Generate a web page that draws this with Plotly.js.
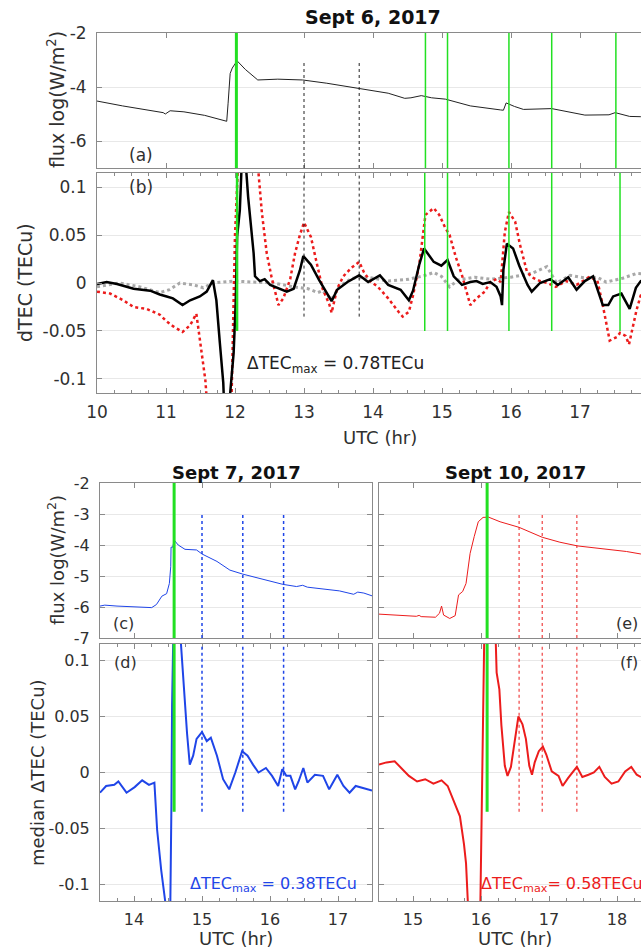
<!DOCTYPE html>
<html>
<head>
<meta charset="utf-8">
<script src="https://cdn.plot.ly/plotly-3.0.1.min.js"></script>
<style>
html,body{margin:0;padding:0;background:#fff;overflow:hidden;width:641px;height:948px;}
#plot{width:700px;height:948px;}
</style>
</head>
<body>
<div id="plot"></div>
<script>
// ---------- DATA ----------
// Panel (a): Sept 6 X-ray flux, log10(W/m^2)
const fluxSep6T = [10.0,10.37,10.96,10.99,11.06,11.26,11.56,11.85,11.88,11.90,11.93,11.96,12.03,12.15,12.33,12.62,12.98,13.33,13.81,14.22,14.46,14.55,14.70,14.85,15.05,15.41,15.85,15.89,15.93,16.05,16.18,16.59,17.07,17.42,17.51,17.72,17.88,18.0];
const fluxSep6V = [-4.52,-4.70,-4.95,-5.00,-4.88,-4.92,-5.05,-5.24,-5.27,-4.60,-3.50,-3.30,-3.03,-3.35,-3.74,-3.71,-3.74,-3.86,-4.05,-4.23,-4.42,-4.40,-4.32,-4.40,-4.45,-4.70,-4.85,-4.86,-4.59,-4.72,-4.83,-4.80,-5.04,-5.03,-4.95,-5.09,-5.10,-5.11];

// Panel (b): Sept 6 dTEC (TECu)
const dtecBlackT = [10.0,10.14,10.29,10.53,10.77,10.91,11.01,11.10,11.24,11.35,11.49,11.59,11.68,11.73,11.78,11.83,11.86,11.90,11.93,11.98,12.01,12.03,12.07,12.11,12.14,12.16,12.19,12.27,12.29,12.36,12.43,12.51,12.65,12.75,12.85,12.94,12.99,13.10,13.22,13.33,13.40,13.48,13.63,13.80,13.93,14.10,14.22,14.40,14.52,14.58,14.67,14.74,14.88,14.99,15.08,15.17,15.29,15.41,15.50,15.59,15.70,15.79,15.85,15.87,15.89,15.94,16.03,16.12,16.24,16.30,16.37,16.42,16.57,16.68,16.83,16.95,17.07,17.19,17.33,17.41,17.48,17.60,17.72,17.81,17.88,18.0];
const dtecBlackV = [-0.001,0.001,-0.001,-0.006,-0.008,-0.012,-0.014,-0.016,-0.023,-0.018,-0.014,-0.009,0.003,-0.018,-0.062,-0.104,-0.16,-0.16,-0.115,-0.073,-0.021,0.048,0.076,0.14,0.20,0.12,0.090,0.031,0.007,0.002,0.004,-0.002,-0.006,-0.009,-0.006,0.013,0.028,0.019,0.003,-0.011,-0.019,-0.007,0.001,0.008,0.001,0.008,-0.002,-0.007,-0.018,-0.008,0.019,0.036,0.022,0.018,0.024,0.007,-0.002,0.001,0.002,-0.001,0.001,-0.004,-0.014,-0.023,0.014,0.041,0.036,0.018,-0.002,-0.009,-0.004,0.000,0.004,-0.002,0.006,-0.007,0.002,0.007,-0.023,-0.023,-0.014,-0.011,-0.027,-0.005,0.002,0.003];
const dtecRedT = [10.0,10.19,10.38,10.53,10.72,10.82,10.91,11.01,11.10,11.24,11.35,11.44,11.52,11.57,11.60,11.70,11.90,11.95,12.00,12.04,12.15,12.30,12.34,12.39,12.46,12.53,12.63,12.70,12.80,12.87,12.94,13.00,13.10,13.19,13.27,13.37,13.40,13.48,13.57,13.69,13.80,13.87,13.96,14.07,14.22,14.37,14.43,14.52,14.58,14.67,14.76,14.88,14.96,15.05,15.11,15.20,15.29,15.41,15.50,15.62,15.70,15.79,15.85,15.91,15.97,16.06,16.13,16.23,16.30,16.42,16.53,16.65,16.80,16.95,17.13,17.25,17.33,17.43,17.54,17.58,17.66,17.71,17.82,17.88,18.0];
const dtecRedV = [-0.009,-0.011,-0.018,-0.025,-0.027,-0.030,-0.033,-0.040,-0.045,-0.051,-0.044,-0.032,-0.077,-0.101,-0.13,-0.30,-0.20,-0.12,0.05,0.13,0.30,0.14,0.115,0.073,0.031,0.006,-0.023,-0.016,0.004,0.031,0.050,0.063,0.048,0.019,-0.006,-0.023,-0.031,-0.006,0.007,0.016,0.022,0.011,0.002,-0.004,-0.016,-0.030,-0.035,-0.030,-0.013,0.019,0.071,0.078,0.071,0.057,0.050,0.027,0.008,-0.023,-0.016,-0.009,0.001,0.004,0.001,0.053,0.074,0.064,0.040,0.012,0.006,0.002,0.000,-0.004,0.002,-0.002,0.006,0.003,-0.023,-0.060,-0.056,-0.052,-0.055,-0.064,-0.028,-0.013,-0.005];
const dtecGrayT = [10.0,10.33,10.62,10.91,11.05,11.20,11.40,11.54,11.68,11.97,12.27,12.56,12.85,13.06,13.20,13.27,13.40,13.51,13.69,13.93,14.22,14.52,14.76,14.88,14.99,15.11,15.23,15.47,15.70,16.00,16.30,16.52,16.66,16.77,16.86,17.01,17.10,17.25,17.38,17.62,17.82,18.0];
const dtecGrayV = [-0.004,0.000,-0.004,-0.010,-0.007,0.000,-0.002,-0.005,0.000,0.002,0.001,0.000,-0.004,-0.006,-0.010,-0.008,-0.017,-0.004,0.005,0.006,0.002,0.004,0.008,0.011,0.007,-0.004,0.003,0.006,0.004,0.006,0.010,0.017,0.000,0.004,0.008,0.006,0.005,0.006,0.001,0.005,0.010,0.009];

// Panel (c): Sept 7 flux
const fluxSep7T = [13.5,13.57,13.75,14.04,14.26,14.33,14.41,14.48,14.52,14.54,14.545,14.57,14.59,14.65,14.75,14.92,15.0,15.22,15.41,15.60,15.85,16.19,16.39,16.48,16.55,16.72,17.02,17.23,17.29,17.38,17.5];
const fluxSep7V = [-5.97,-5.94,-5.97,-6.00,-6.02,-5.92,-5.65,-5.57,-5.24,-4.70,-4.07,-4.07,-3.84,-4.00,-4.14,-4.16,-4.29,-4.53,-4.81,-4.94,-5.07,-5.27,-5.34,-5.30,-5.36,-5.40,-5.48,-5.59,-5.52,-5.55,-5.64];

// Panel (d): Sept 7 median dTEC
const medSep7T = [13.5,13.59,13.71,13.77,13.89,14.01,14.12,14.22,14.30,14.34,14.40,14.47,14.50,14.53,14.55,14.56,14.58,14.65,14.69,14.74,14.78,14.82,14.87,14.92,15.0,15.07,15.13,15.22,15.31,15.40,15.49,15.59,15.67,15.75,15.83,15.94,16.03,16.12,16.18,16.24,16.30,16.37,16.42,16.49,16.55,16.66,16.78,16.87,16.99,17.08,17.17,17.26,17.38,17.5];
const medSep7V = [-0.018,-0.012,-0.011,-0.008,-0.018,-0.013,-0.007,-0.011,-0.009,-0.051,-0.087,-0.12,-0.20,-0.14,-0.030,0.060,0.13,0.30,0.115,0.068,0.035,0.007,0.015,0.030,0.036,0.028,0.031,0.015,-0.006,-0.015,0.000,0.019,0.015,0.007,0.000,0.004,-0.003,-0.012,0.003,-0.003,-0.003,-0.015,-0.008,0.004,-0.009,-0.002,-0.003,-0.015,-0.002,-0.012,-0.018,-0.012,-0.014,-0.016];

// Panel (e): Sept 10 flux
const fluxSep10T = [14.5,14.82,15.05,15.09,15.12,15.33,15.39,15.42,15.45,15.54,15.62,15.67,15.73,15.78,15.84,15.90,15.96,16.03,16.11,16.28,16.56,16.90,17.16,17.42,17.85,18.14,18.35,18.5];
const fluxSep10V = [-6.23,-6.26,-6.30,-6.27,-6.31,-6.33,-6.20,-5.97,-6.26,-6.37,-6.28,-5.61,-5.50,-5.24,-4.27,-3.73,-3.25,-3.11,-3.10,-3.25,-3.43,-3.75,-3.91,-4.03,-4.14,-4.21,-4.29,-4.33];

// Panel (f): Sept 10 median dTEC
const medSep10T = [14.5,14.61,14.73,14.85,14.94,15.06,15.18,15.30,15.42,15.51,15.60,15.69,15.75,15.78,15.81,15.90,15.99,16.01,16.03,16.05,16.13,16.21,16.23,16.27,16.30,16.35,16.39,16.44,16.50,16.55,16.61,16.66,16.71,16.75,16.79,16.85,16.91,16.96,17.04,17.14,17.20,17.28,17.41,17.49,17.58,17.66,17.74,17.82,17.92,18.02,18.12,18.21,18.29,18.35,18.5];
const medSep10V = [0.007,0.009,0.010,0.003,-0.003,-0.008,-0.006,-0.010,-0.007,-0.012,-0.025,-0.039,-0.064,-0.081,-0.12,-0.20,-0.12,-0.030,0.060,0.13,0.30,0.12,0.089,0.074,0.042,0.006,-0.003,0.005,0.030,0.050,0.043,0.030,0.006,-0.002,0.009,0.019,0.023,0.016,0.001,-0.003,-0.012,-0.005,0.005,-0.004,-0.002,0.000,0.005,-0.004,-0.010,-0.008,0.001,0.005,-0.002,-0.004,-0.002];

// Vertical event markers
const greenSep6A = [12.02,14.76,15.08,15.97,16.59,17.52];
const greenSep6B = [12.03,14.75,15.08,15.97,16.59,17.58];
const greenSep6W = [3,1.5,1.5,1.5,1.5,1.5];
const greenBottomB = -0.05;
const dottedSep6 = [13.0,13.8];
const dottedTopFlux = -3;
const dottedBottomTec = -0.035;
const greenSep7 = 14.59;
const dottedSep7 = [15.0,15.6,16.2];
const greenSep10 = 16.09;
const dottedSep10 = [16.56,16.9,17.41];

// Tick labels
const xTicksSep6 = [10,11,12,13,14,15,16,17];
const xTickTextSep6 = ['10','11','12','13','14','15','16','17'];
const fluxTicksTop = [-6,-4,-2];
const fluxTickTextTop = ['-6','-4','-2'];
const tecTicks = [-0.1,-0.05,0,0.05,0.1];
const tecTickText = ['-0.1','-0.05','0','0.05','0.1'];
const fluxTicksBot = [-7,-6,-5,-4,-3,-2];
const fluxTickTextBot = ['-7','-6','-5','-4','-3','-2'];
const xTicksSep7 = [14,15,16,17];
const xTicksSep10 = [15,16,17,18];

// ---------- LAYOUT ----------
const W = 700, H = 948;
const px = v => v / W;
const py = v => 1 - v / H;
const FONT = 'DejaVu Sans, Liberation Sans, sans-serif';
const TXT = '#303030';
const FRAME = '#8a8a8a';
const GRID = '#e8e8e8';
const BLUE = '#1f45e8';
const RED = '#ec1c1c';
const GREEN = '#22e022';

function xAx(dom, range, tickvals, ticktext, showLabels, minor, size) {
  const a = {
    domain: dom, range: range, tickmode: 'array', tickvals: tickvals,
    ticktext: ticktext, showticklabels: showLabels,
    ticks: 'inside', ticklen: 5, tickcolor: FRAME, tickwidth: 1,
    showline: true, linecolor: FRAME, linewidth: 1, mirror: 'ticks',
    showgrid: false, zeroline: false, fixedrange: true,
    tickfont: {family: FONT, size: size, color: TXT}, ticklabelstandoff: 4
  };
  if (minor) a.minor = {dtick: 0.25, ticks: 'inside', ticklen: 3, tickcolor: FRAME, showgrid: false};
  return a;
}
function yAx(dom, range, tickvals, ticktext, showLabels, size) {
  return {
    domain: dom, range: range, tickmode: 'array', tickvals: tickvals, ticktext: ticktext,
    showticklabels: showLabels, ticks: 'inside', ticklen: 5, tickcolor: FRAME, tickwidth: 1,
    showline: true, linecolor: FRAME, linewidth: 1, mirror: 'ticks',
    showgrid: true, gridcolor: GRID, gridwidth: 1, zeroline: false, fixedrange: true,
    tickfont: {family: FONT, size: size, color: TXT}, ticklabelstandoff: 6
  };
}

const tecR6 = [-0.1146, 0.1146];
const tecR = [-0.1145, 0.1145];

const layout = {
  width: W, height: H, autosize: false,
  margin: {l: 0, r: 0, t: 0, b: 0},
  paper_bgcolor: '#fff', plot_bgcolor: '#fff',
  showlegend: false,
  xaxis: xAx([px(97), px(649)], [10, 18], xTicksSep6, xTickTextSep6, false, false, 17),
  yaxis: yAx([py(168), py(33)], [-7, -2], fluxTicksTop, fluxTickTextTop, true, 17),
  xaxis2: xAx([px(97), px(649)], [10, 18], xTicksSep6, xTickTextSep6, true, true, 17),
  yaxis2: yAx([py(393), py(173)], tecR6, tecTicks, tecTickText, true, 17),
  xaxis3: xAx([px(100), px(372)], [13.5, 17.5], xTicksSep7, xTicksSep7.map(String), false, false, 16),
  yaxis3: yAx([py(638), py(483)], [-7, -2], fluxTicksBot, fluxTickTextBot, true, 16),
  xaxis4: xAx([px(100), px(372)], [13.5, 17.5], xTicksSep7, xTicksSep7.map(String), true, true, 16),
  yaxis4: yAx([py(901), py(644)], tecR, tecTicks, tecTickText, true, 16),
  xaxis5: xAx([px(379), px(651)], [14.5, 18.5], xTicksSep10, xTicksSep10.map(String), false, false, 16),
  yaxis5: yAx([py(638), py(483)], [-7, -2], fluxTicksBot, fluxTickTextBot, false, 16),
  xaxis6: xAx([px(379), px(651)], [14.5, 18.5], xTicksSep10, xTicksSep10.map(String), true, true, 16),
  yaxis6: yAx([py(901), py(644)], tecR, tecTicks, tecTickText, false, 16),
  shapes: [], annotations: []
};
layout.xaxis.anchor = 'y'; layout.yaxis.anchor = 'x';
layout.xaxis2.anchor = 'y2'; layout.yaxis2.anchor = 'x2';
layout.xaxis3.anchor = 'y3'; layout.yaxis3.anchor = 'x3';
layout.xaxis4.anchor = 'y4'; layout.yaxis4.anchor = 'x4';
layout.xaxis5.anchor = 'y5'; layout.yaxis5.anchor = 'x5';
layout.xaxis6.anchor = 'y6'; layout.yaxis6.anchor = 'x6';

function vline(xr, yr, x, y0, y1, color, width, dash) {
  layout.shapes.push({type: 'line', xref: xr, yref: yr, x0: x, x1: x, y0: y0, y1: y1,
    line: {color: color, width: width, dash: dash || 'solid'}, layer: 'above'});
}
// Sept 6
greenSep6A.forEach((x, i) => vline('x', 'y', x, -7, -2, GREEN, greenSep6W[i]));
greenSep6B.forEach((x, i) => vline('x2', 'y2', x, greenBottomB, tecR6[1], GREEN, greenSep6W[i] === 3 ? 2.5 : 1.5));
dottedSep6.forEach(x => { vline('x', 'y', x, -7, dottedTopFlux, '#222', 1, 'dot'); vline('x2', 'y2', x, dottedBottomTec, tecR6[1], '#222', 1, 'dot'); });
// Sept 7
dottedSep7.forEach(x => { vline('x3', 'y3', x, -7, dottedTopFlux, BLUE, 1.5, 'dot'); vline('x4', 'y4', x, dottedBottomTec, tecR[1], BLUE, 1.5, 'dot'); });
vline('x3', 'y3', greenSep7, -7, -2, GREEN, 3);
vline('x4', 'y4', greenSep7, dottedBottomTec, tecR[1], GREEN, 3);
// Sept 10
dottedSep10.forEach(x => { vline('x5', 'y5', x, -7, dottedTopFlux, RED, 1, 'dot'); vline('x6', 'y6', x, dottedBottomTec, tecR[1], RED, 1, 'dot'); });
vline('x5', 'y5', greenSep10, -7, -2, GREEN, 3);
vline('x6', 'y6', greenSep10, dottedBottomTec, tecR[1], GREEN, 3);

function ann(text, x, y, size, opts) {
  layout.annotations.push(Object.assign({text: text, xref: 'paper', yref: 'paper', x: px(x), y: py(y),
    showarrow: false, xanchor: 'center', yanchor: 'middle',
    font: {family: FONT, size: size, color: TXT}}, opts || {}));
}
ann('<b>Sept 6, 2017</b>', 373, 17, 19, {font: {family: FONT, size: 19, color: '#111'}});
ann('<b>Sept 7, 2017</b>', 236, 472, 18, {font: {family: FONT, size: 18, color: '#111'}});
ann('<b>Sept 10, 2017</b>', 515, 472, 18, {font: {family: FONT, size: 18, color: '#111'}});
ann('flux log(W/m<sup>2</sup>)', 56, 100, 19, {textangle: -90});
ann('dTEC (TECu)', 25, 283, 19, {textangle: -90});
ann('flux log(W/m<sup>2</sup>)', 56, 560, 18, {textangle: -90});
ann('median ΔTEC (TECu)', 37, 773, 18, {textangle: -90});
ann('UTC (hr)', 380, 437, 18);
ann('UTC (hr)', 236, 938, 18);
ann('UTC (hr)', 515, 938, 18);
ann('(a)', 141, 155, 17);
ann('(b)', 141, 187, 17);
ann('(c)', 123, 623, 16);
ann('(d)', 125, 662, 16);
ann('(e)', 640, 623, 16, {xanchor: 'right'});
ann('(f)', 640, 662, 16, {xanchor: 'right'});
ann('ΔTEC<sub>max</sub> = 0.78TECu', 245, 364, 17, {xanchor: 'left', font: {family: FONT, size: 17, color: '#222'}});
ann('ΔTEC<sub>max</sub> = 0.38TECu', 188, 884, 16, {xanchor: 'left', font: {family: FONT, size: 16, color: BLUE}});
ann('ΔTEC<sub>max</sub>= 0.58TECu', 479, 884, 16, {xanchor: 'left', font: {family: FONT, size: 16, color: RED}});

// ---------- TRACES ----------
const traces = [
  {x: fluxSep6T, y: fluxSep6V, xaxis: 'x', yaxis: 'y', mode: 'lines', line: {color: '#222', width: 1}},
  {x: dtecGrayT, y: dtecGrayV, xaxis: 'x2', yaxis: 'y2', mode: 'lines', line: {color: '#a8a8a8', width: 3, dash: 'dot'}},
  {x: dtecRedT, y: dtecRedV, xaxis: 'x2', yaxis: 'y2', mode: 'lines', line: {color: RED, width: 2.5, dash: 'dot'}},
  {x: dtecBlackT, y: dtecBlackV, xaxis: 'x2', yaxis: 'y2', mode: 'lines', line: {color: '#000', width: 2.5}},
  {x: fluxSep7T, y: fluxSep7V, xaxis: 'x3', yaxis: 'y3', mode: 'lines', line: {color: BLUE, width: 1}},
  {x: medSep7T, y: medSep7V, xaxis: 'x4', yaxis: 'y4', mode: 'lines', line: {color: BLUE, width: 2}},
  {x: fluxSep10T, y: fluxSep10V, xaxis: 'x5', yaxis: 'y5', mode: 'lines', line: {color: RED, width: 1}},
  {x: medSep10T, y: medSep10V, xaxis: 'x6', yaxis: 'y6', mode: 'lines', line: {color: RED, width: 2}}
];

Plotly.newPlot('plot', traces, layout, {displayModeBar: false, staticPlot: true});
</script>
</body>
</html>
